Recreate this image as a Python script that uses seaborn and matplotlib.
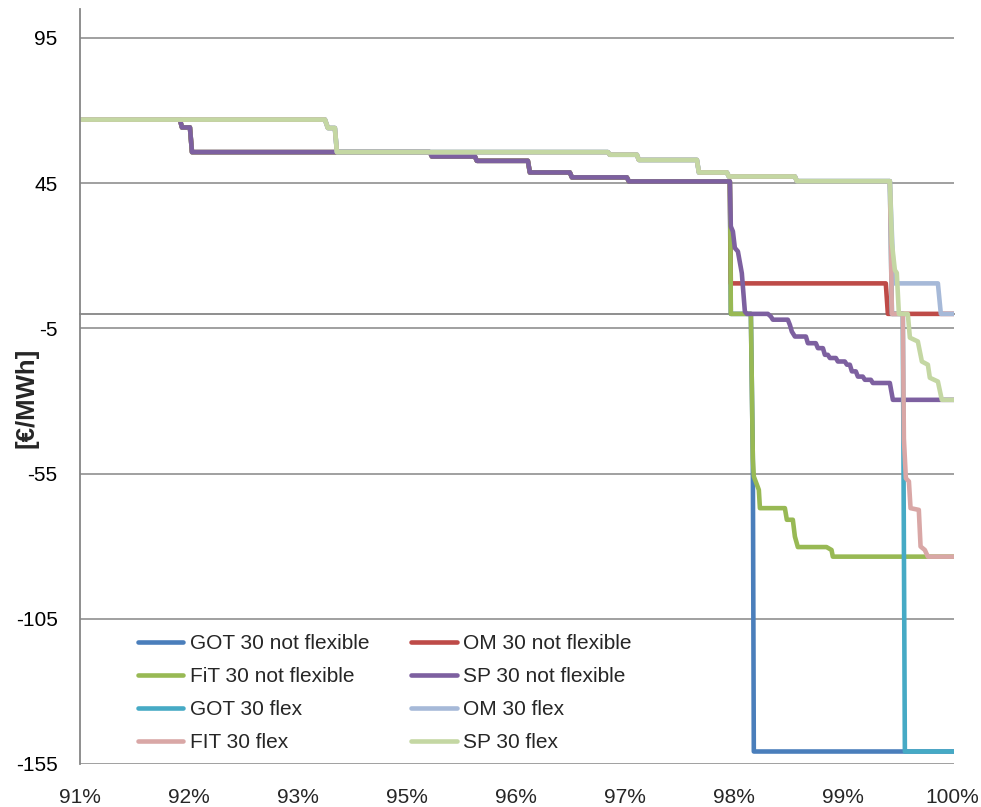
import numpy as np
import pandas as pd
import seaborn as sns
import matplotlib.pyplot as plt

sns.set_style('white')
plt.rcParams['font.family'] = ['Liberation Sans', 'DejaVu Sans']
plt.rcParams['axes.unicode_minus'] = False

# x = position along the category axis (0 -> 91%, 8 -> 100%)
tick_labels = ['91%', '92%', '93%', '95%', '96%', '97%', '98%', '99%', '100%']
y_ticks = [95, 45, -5, -55, -105, -155]

# high price part shared by the "not flexible" curves
top_nf_x = [0, 0.917, 0.936, 1.009, 1.028, 3.211, 3.229, 3.624, 3.642,
            4.110, 4.128, 4.495, 4.514, 5.018, 5.037, 5.963]
top_nf_y = [66.9, 66.9, 64.2, 64.2, 55.7, 55.7, 54.2, 54.2, 52.7,
            52.7, 48.7, 48.7, 47.0, 47.0, 45.6, 45.6]

# high price part shared by the "flex" curves
top_f_x = [0, 2.248, 2.275, 2.339, 2.358, 4.844, 4.862, 5.110, 5.128,
           5.661, 5.679, 5.936, 5.954, 6.560, 6.578, 7.431]
top_f_y = [66.9, 66.9, 64.0, 64.0, 55.7, 55.7, 54.8, 54.8, 53.0,
           53.0, 48.7, 48.7, 47.3, 47.3, 45.7, 45.7]

got_nf_x = [5.972, 6.156, 6.174, 6.183, 8.02]
got_nf_y = [0, 0, -50, -150.7, -150.7]

om_nf_x = [5.972, 7.394, 7.413, 8.02]
om_nf_y = [10.5, 10.5, 0, 0]

fit_nf_x = [5.968, 5.972, 6.156, 6.174, 6.183, 6.229, 6.239, 6.468, 6.486,
            6.541, 6.560, 6.587, 6.850, 6.896, 6.908, 8.02]
fit_nf_y = [29.6, 0, 0, -50, -56.0, -60.6, -66.9, -66.9, -70.9,
            -70.9, -76.7, -80.3, -80.3, -81.3, -83.6, -83.6]

sp_nf_x = [5.972, 5.991, 6.009, 6.037, 6.073, 6.101, 6.119, 6.312, 6.339,
           6.358, 6.495, 6.514, 6.532, 6.560, 6.661, 6.679, 6.752, 6.771,
           6.817, 6.835, 6.862, 6.881, 6.936, 6.954, 7.018, 7.037, 7.064,
           7.083, 7.119, 7.138, 7.183, 7.202, 7.257, 7.275, 7.431, 7.459, 8.02]
sp_nf_y = [30.1, 28.4, 22.7, 21.5, 14.0, 0.8, 0, 0, -0.9,
           -2.0, -2.0, -3.8, -6.1, -7.8, -7.8, -10.1, -10.1, -11.8,
           -11.8, -14.1, -14.1, -15.2, -15.2, -16.4, -16.4, -17.5, -17.5,
           -19.8, -19.8, -21.6, -21.6, -22.7, -22.7, -23.8, -23.8, -29.6, -29.6]

got_f_x = [7.440, 7.450, 7.550, 7.569, 8.02]
got_f_y = [25.0, 0, 0, -150.7, -150.7]

om_f_x = [7.468, 7.872, 7.899, 8.02]
om_f_y = [10.5, 10.5, 0, 0]

fit_f_x = [7.440, 7.450, 7.550, 7.560, 7.578, 7.606, 7.621, 7.697, 7.713,
           7.752, 7.780, 8.02]
fit_f_y = [25.0, 0, 0, -43.0, -56.6, -57.7, -66.9, -67.5, -80.1,
           -81.3, -83.6, -83.6]

sp_f_x = [7.450, 7.477, 7.495, 7.514, 7.596, 7.615, 7.688, 7.725, 7.780,
          7.798, 7.872, 7.908, 8.02]
sp_f_y = [24.4, 15.1, 14.1, 0, 0, -8.2, -9.5, -16.4, -17.5,
          -22.0, -23.3, -29.6, -29.6]

series = [
    ('GOT 30 not flexible', top_nf_x + got_nf_x, top_nf_y + got_nf_y, '#4A7EBB'),
    ('OM 30 not flexible', top_nf_x + om_nf_x, top_nf_y + om_nf_y, '#BE4B48'),
    ('FiT 30 not flexible', top_nf_x + fit_nf_x, top_nf_y + fit_nf_y, '#98B954'),
    ('SP 30 not flexible', top_nf_x + sp_nf_x, top_nf_y + sp_nf_y, '#7D60A0'),
    ('GOT 30 flex', top_f_x + got_f_x, top_f_y + got_f_y, '#46AAC5'),
    ('OM 30 flex', top_f_x + om_f_x, top_f_y + om_f_y, '#A6B9D8'),
    ('FIT 30 flex', top_f_x + fit_f_x, top_f_y + fit_f_y, '#D9A7A6'),
    ('SP 30 flex', top_f_x + sp_f_x, top_f_y + sp_f_y, '#C4D7A3'),
]

df = pd.concat([pd.DataFrame({'pos': x, 'price': y, 'series': name})
                for name, x, y, c in series], ignore_index=True)
names = [s[0] for s in series]
palette = {s[0]: s[3] for s in series}

fig = plt.figure(figsize=(9.81, 8.07), dpi=100)
ax = fig.add_axes([0.0815, 0.0533, 0.891, 0.9356])

sns.lineplot(data=df, x='pos', y='price', hue='series', hue_order=names,
             palette=palette, sort=False, estimator=None, lw=3.3,
             solid_joinstyle='round', ax=ax)

grey = '#868686'
ax.set_xlim(0, 8.02)
ax.set_ylim(-155, 105)
ax.set_yticks(y_ticks)
ax.yaxis.grid(True, color=grey, lw=1.1)
ax.set_axisbelow(True)
for side in ['top', 'right']:
    ax.spines[side].set_visible(False)
ax.spines['left'].set_color(grey)
ax.spines['left'].set_linewidth(1.3)
ax.spines['bottom'].set_position(('data', 0))
ax.spines['bottom'].set_color(grey)
ax.spines['bottom'].set_linewidth(1.3)
ax.spines['bottom'].set_zorder(1)

ax.set_xticks(range(9))
ax.tick_params(axis='x', length=4, width=1, color=grey, labelbottom=False)
ax.tick_params(axis='y', length=5, width=1.1, color=grey, pad=11,
               labelsize=15, labelcolor='black')
ax.set_xlabel('')
ax.set_ylabel('[€/MWh]', fontsize=18.5, fontweight='bold')
ax.yaxis.set_label_coords(-0.047, 0.485)

sec = ax.secondary_xaxis('bottom')
sec.set_xticks(range(9), labels=tick_labels)
sec.tick_params(length=0, pad=17, labelsize=15)
sec.spines['bottom'].set_visible(False)

handles, labels = ax.get_legend_handles_labels()
order = [0, 2, 4, 6, 1, 3, 5, 7]
leg = ax.legend([handles[i] for i in order], [labels[i] for i in order],
                ncol=2, frameon=False, fontsize=15, loc='upper left',
                bbox_to_anchor=(0.066, 0.172), borderpad=0, borderaxespad=0,
                handlelength=2.2, handletextpad=0.3, columnspacing=2.0,
                labelspacing=0.67)
for h in leg.get_lines():
    h.set_linewidth(3.3)

fig.savefig('out.png', dpi=100)
